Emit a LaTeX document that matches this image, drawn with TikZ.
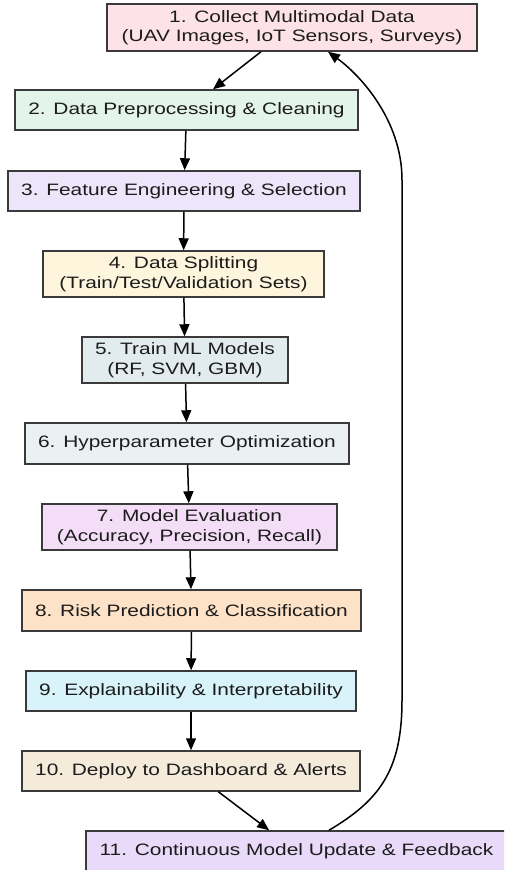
\documentclass[tikz,border=0pt]{standalone}
\usepackage{fontspec}
\setmainfont{Liberation Sans}[FakeStretch=1.265]
\usetikzlibrary{arrows.meta,calc}
\definecolor{bordergray}{HTML}{3A3A3A}
\definecolor{textgray}{HTML}{1C1C1C}
\definecolor{cA}{HTML}{FDE3E8}
\definecolor{cB}{HTML}{E3F4EA}
\definecolor{cC}{HTML}{EDE6FA}
\definecolor{cD}{HTML}{FDF5DC}
\definecolor{cE}{HTML}{E2ECEF}
\definecolor{cF}{HTML}{EBF0F3}
\definecolor{cG}{HTML}{F4DDF7}
\definecolor{cH}{HTML}{FDE2C7}
\definecolor{cI}{HTML}{D8F3FA}
\definecolor{cJ}{HTML}{F5EBDA}
\definecolor{cK}{HTML}{E8DAF8}
\begin{document}
\begin{tikzpicture}[x=1pt,y=-1pt,
  box/.style={draw=bordergray, line width=1.5pt, inner sep=0pt, align=center,
    text=textgray, font=\fontsize{16.5}{19.5}\selectfont},
  flow/.style={draw=black, line width=1.5pt, -{Triangle[length=12pt,width=10pt]}}]
\useasboundingbox (0,0) rectangle (504,870);
\clip (0,0) rectangle (504,870);
\fill[white] (0,0) rectangle (504,870);
\node[box, fill=cA, minimum width=370pt, minimum height=47pt] (b1) at (292,27.5) {1. Collect Multimodal Data\\(UAV Images, IoT Sensors, Surveys)};
\node[box, fill=cB, minimum width=343pt, minimum height=40pt] (b2) at (186.5,110) {2. Data Preprocessing \& Cleaning};
\node[box, fill=cC, minimum width=352pt, minimum height=40pt] (b3) at (184,191) {3. Feature Engineering \& Selection};
\node[box, fill=cD, minimum width=281pt, minimum height=46pt] (b4) at (183.5,274) {4. Data Splitting\\(Train/Test/Validation Sets)};
\node[box, fill=cE, minimum width=206pt, minimum height=46pt] (b5) at (185,360) {5. Train ML Models\\(RF, SVM, GBM)};
\node[box, fill=cF, minimum width=324pt, minimum height=41pt] (b6) at (187,443.5) {6. Hyperparameter Optimization};
\node[box, fill=cG, minimum width=295pt, minimum height=46pt] (b7) at (189.5,527) {7. Model Evaluation\\(Accuracy, Precision, Recall)};
\node[box, fill=cH, minimum width=339pt, minimum height=41pt] (b8) at (191.5,610.5) {8. Risk Prediction \& Classification};
\node[box, fill=cI, minimum width=330pt, minimum height=40pt] (b9) at (191,691) {9. Explainability \& Interpretability};
\node[box, fill=cJ, minimum width=338pt, minimum height=40pt] (b10) at (191,771) {10. Deploy to Dashboard \& Alerts};
\node[box, fill=cK, minimum width=421pt, minimum height=40pt] (b11) at (296.5,851) {11. Continuous Model Update \& Feedback};
\draw[flow] (b1) -- (b2);
\draw[flow] (b2) -- (b3);
\draw[flow] (b3) -- (b4);
\draw[flow] (b4) -- (b5);
\draw[flow] (b5) -- (b6);
\draw[flow] (b6) -- (b7);
\draw[flow] (b7) -- (b8);
\draw[flow] (b8) -- (b9);
\draw[flow] (b9) -- (b10);
\draw[flow] (b10) -- (b11);
\draw[flow] ([xshift=32.5pt]b11.north) .. controls (380,800) and (402,770) .. (402,700)
  -- (402,180) .. controls (402,120) and (360,75) .. ([xshift=36pt]b1.south);
\end{tikzpicture}
\end{document}
